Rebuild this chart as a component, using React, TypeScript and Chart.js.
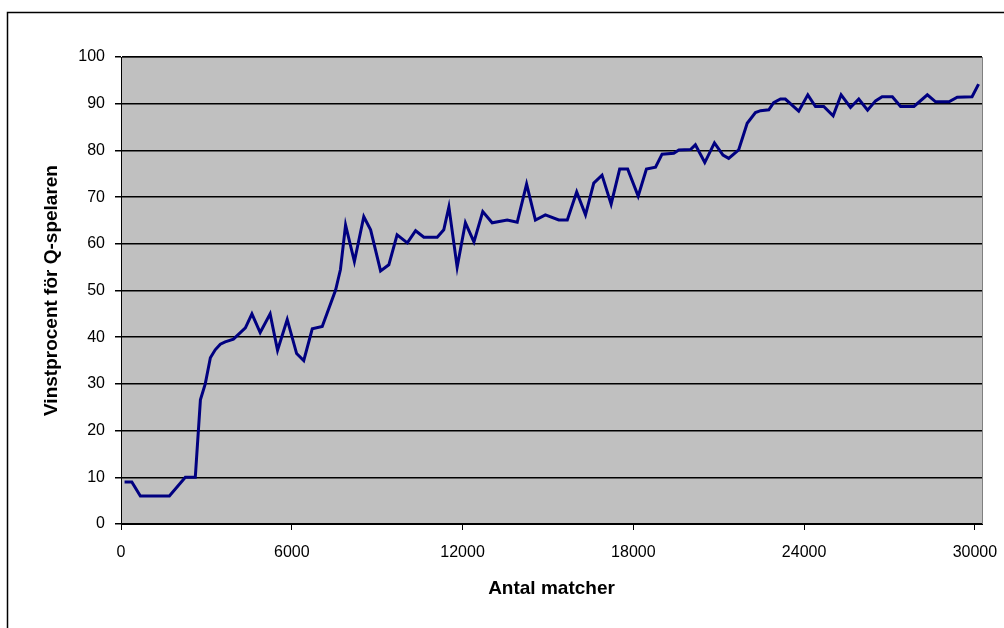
import React, { useEffect, useRef } from "react";
import { Chart, registerables } from "chart.js";

Chart.register(...registerables);

// Matches played (x) and win percentage for the Q-player (y)
const matches = [
  125, 380, 680, 1700, 2260, 2610, 2790, 2960, 3140, 3310, 3490, 3660, 3950, 4370,
  4600, 4890, 5240, 5500, 5840, 6170, 6420, 6720, 7070, 7540, 7710, 7890, 8200,
  8530, 8770, 9120, 9410, 9700, 10060, 10350, 10640, 11110, 11340, 11520, 11810,
  12100, 12400, 12710, 13040, 13570, 13920, 14250, 14560, 14910, 15380, 15680,
  16010, 16320, 16610, 16900, 17220, 17520, 17800, 18170, 18460, 18780, 19010,
  19420, 19600, 20010, 20180, 20510, 20850, 21150, 21350, 21700, 22000, 22290,
  22470, 22760, 22930, 23170, 23340, 23810, 24130, 24400, 24690, 25020, 25300,
  25630, 25920, 26230, 26510, 26740, 27100, 27390, 27860, 28330, 28620, 29090,
  29380, 29900, 30130,
];
const winPercent = [
  9, 9, 6, 6, 10, 10, 26.6, 30, 35.6, 37.3, 38.5, 39, 39.6, 42,
  45, 41, 45, 37.2, 43.8, 36.5, 35, 41.8, 42.3, 50.1, 54.5, 64, 56.2,
  65.8, 63, 54.2, 55.5, 61.9, 60.2, 62.8, 61.4, 61.4, 63, 67.9, 55,
  64.5, 60.4, 66.9, 64.5, 65.1, 64.6, 72.8, 65.1, 66.2, 65.1, 65.1,
  71.1, 66.2, 73, 74.7, 68.5, 76, 76, 70.2, 76, 76.4, 79.2,
  79.4, 80.1, 80.2, 81.2, 77.4, 81.6, 79, 78.3, 80.1, 85.8, 88.1,
  88.5, 88.7, 90.2, 91, 91, 88.4, 91.9, 89.4, 89.4, 87.4, 91.9,
  89.2, 91, 88.6, 90.6, 91.5, 91.5, 89.4, 89.4, 91.9, 90.4, 90.4,
  91.4, 91.5, 94.2,
];
const xTickValues = [0, 6000, 12000, 18000, 24000, 30000];
const xTitle = "Antal matcher";
const yTitle = "Vinstprocent för Q-spelaren";

const W = 1004;
const H = 628;

export default function App() {
  const ref = useRef<HTMLCanvasElement | null>(null);

  useEffect(() => {
    const canvas = ref.current;
    if (!canvas) return;
    const tickFont = { family: "'Liberation Sans', Arial, sans-serif", size: 16 };

    const frame = {
      id: "excelFrame",
      beforeDraw(chart: any) {
        const ctx = chart.ctx;
        const a = chart.chartArea;
        ctx.save();
        ctx.fillStyle = "#ffffff";
        ctx.fillRect(0, 0, W, H);
        ctx.strokeStyle = "#000000";
        ctx.lineWidth = 1.5;
        ctx.strokeRect(7.5, 12.5, W + 20, H + 20);
        ctx.fillStyle = "#c0c0c0";
        ctx.fillRect(a.left, a.top, a.right - a.left, a.bottom - a.top);
        ctx.strokeStyle = "#808080";
        ctx.lineWidth = 1;
        ctx.strokeRect(a.left + 0.5, a.top + 0.5, a.right - a.left, a.bottom - a.top);
        ctx.restore();
      },
      afterDraw(chart: any) {
        const ctx = chart.ctx;
        const a = chart.chartArea;
        ctx.save();
        ctx.fillStyle = "#000000";
        ctx.font = "bold 19px 'Liberation Sans', Arial, sans-serif";
        ctx.textAlign = "center";
        ctx.textBaseline = "middle";
        ctx.fillText(xTitle, (a.left + a.right) / 2, 589);
        ctx.translate(52, (a.top + a.bottom) / 2);
        ctx.rotate(-Math.PI / 2);
        ctx.fillText(yTitle, 0, 0);
        ctx.restore();
      },
    };

    const chart = new Chart(canvas, {
      type: "line",
      data: {
        datasets: [
          {
            data: matches.map((x, i) => ({ x, y: winPercent[i] })),
            borderColor: "#000080",
            borderWidth: 3,
            pointRadius: 0,
            tension: 0,
            fill: false,
          },
        ],
      },
      options: {
        responsive: false,
        animation: false,
        layout: { padding: { top: 57, right: 22, left: 0, bottom: 0 } },
        plugins: { legend: { display: false }, tooltip: { enabled: false } },
        scales: {
          x: {
            type: "linear",
            min: 0,
            max: 30250,
            afterBuildTicks: (axis: any) => {
              axis.ticks = xTickValues.map((v) => ({ value: v }));
            },
            afterFit: (s: any) => {
              s.height = H - 524;
              s.paddingLeft = 0;
              s.paddingRight = 0;
            },
            ticks: {
              font: tickFont,
              color: "#000000",
              padding: 13,
              maxRotation: 0,
              autoSkip: false,
              callback: (v: any) => String(v),
            },
            grid: {
              display: true,
              drawOnChartArea: false,
              drawTicks: true,
              tickLength: 6,
              color: "#000000",
            },
            border: { display: true, color: "#000000", width: 1 },
          },
          y: {
            min: 0,
            max: 100,
            afterFit: (s: any) => {
              s.width = 121;
            },
            ticks: { stepSize: 10, font: tickFont, color: "#000000", padding: 10 },
            grid: { color: "#000000", lineWidth: 1.5, tickLength: 6 },
            border: { display: true, color: "#000000", width: 1 },
          },
        },
      },
      plugins: [frame],
    } as any);

    return () => chart.destroy();
  }, []);

  return (
    <div style={{ position: "fixed", left: 0, top: 0, width: W, height: H }}>
      <canvas ref={ref} width={W} height={H} style={{ width: W, height: H, display: "block" }} />
    </div>
  );
}
